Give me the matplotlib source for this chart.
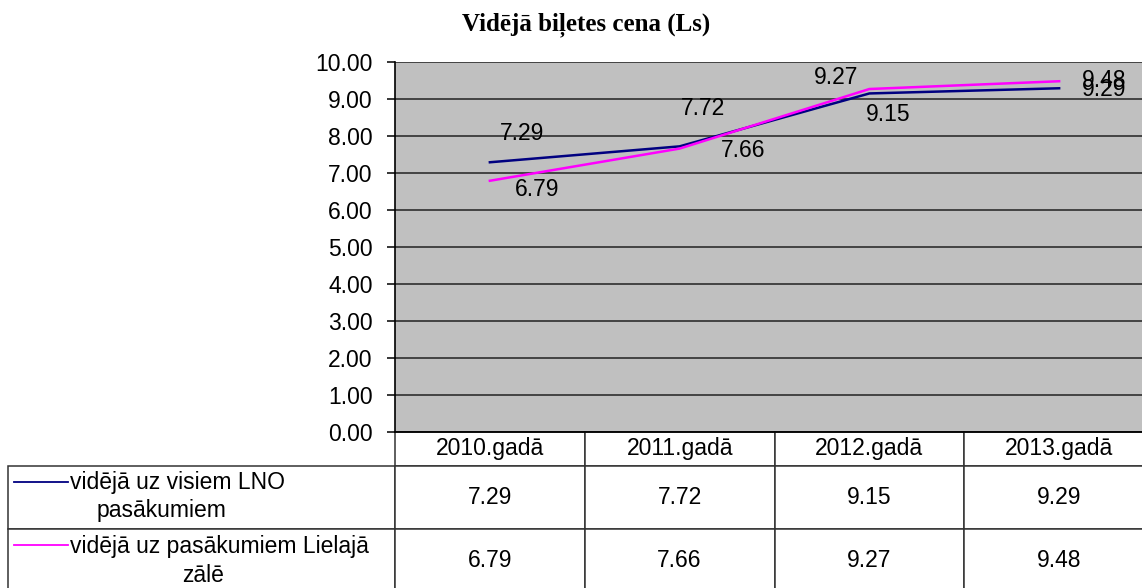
import matplotlib.pyplot as plt
from matplotlib.lines import Line2D
from matplotlib.table import Table
from matplotlib.ticker import FormatStrFormatter

plt.rcParams['font.family'] = ['Liberation Sans', 'DejaVu Sans']

# data
title = "Vidējā biļetes cena (Ls)"
years = ["2010.gadā", "2011.gadā", "2012.gadā", "2013.gadā"]
series_names = ["vidējā uz visiem LNO\npasākumiem", "vidējā uz pasākumiem Lielajā\nzālē"]
avg_all = [7.29, 7.72, 9.15, 9.29]
avg_hall = [6.79, 7.66, 9.27, 9.48]
y_ticks = [0, 1, 2, 3, 4, 5, 6, 7, 8, 9, 10]

# label offsets in pixels (dx, dy, y measured downward)
off_all = [(32, -29), (23, -38), (19, 21), (45, 1)]
off_hall = [(47, 9), (64, 2), (-33, -12), (45, -1)]

colors = ["#000080", "#FF00FF"]
fs = 16.5
W, H = 1142, 588

fig = plt.figure(figsize=(W / 100, H / 100), dpi=100)
ax = fig.add_axes([395 / W, 1 - 432 / H, 759 / W, 370 / H])
ax.set_facecolor("#C0C0C0")

x = list(range(len(years)))
ax.plot(x, avg_all, color=colors[0], lw=1.8, zorder=3)
ax.plot(x, avg_hall, color=colors[1], lw=1.8, zorder=4)

# data labels
for vals, offs in [(avg_all, off_all), (avg_hall, off_hall)]:
    for i, v in enumerate(vals):
        ax.annotate(f"{v:.2f}", (i, v), xytext=(offs[i][0], -offs[i][1]),
                    textcoords="offset pixels", ha="center", va="center",
                    fontsize=fs, color="black", zorder=5)

ax.set_xlim(-0.5, len(years) - 0.5)
ax.set_ylim(0, 10)
ax.set_yticks(y_ticks)
ax.yaxis.set_major_formatter(FormatStrFormatter("%.2f"))
ax.set_xticks([])
ax.yaxis.grid(True, color="#222222", lw=1.1)
ax.set_axisbelow(True)
ax.tick_params(axis="y", length=6, width=1.1, pad=10, labelsize=fs, colors="black")
for s in ["top", "right"]:
    ax.spines[s].set_visible(False)
ax.spines["left"].set_linewidth(1.2)
ax.spines["bottom"].set_linewidth(1.2)

# title
fig.text(586 / W, 1 - 25 / H, title, ha="center", va="center",
         fontsize=18, fontweight="bold", family="Liberation Serif")

# data table
label_w, col_w = 387, 189.75
head_h, row_h = 34, 63
tab = Table(ax, bbox=[(8 - 395) / 759, -160 / 370, (1154 - 8) / 759, 160 / 370])
for j, yr in enumerate(years):
    tab.add_cell(0, j + 1, width=col_w, height=head_h, text=yr, loc="center")
for r, vals in enumerate([avg_all, avg_hall]):
    tab.add_cell(r + 1, 0, width=label_w, height=row_h, text="")
    for j, v in enumerate(vals):
        tab.add_cell(r + 1, j + 1, width=col_w, height=row_h, text=f"{v:.2f}", loc="center")
tab.auto_set_font_size(False)
tab.set_fontsize(fs)
for cell in tab.get_celld().values():
    cell.set_edgecolor("#333333")
    cell.set_linewidth(1.1)
    cell.set_facecolor("white")
ax.add_table(tab)

# legend keys + row labels
key_y = [482, 545]
line2_x = [162, 203]
line2_y = [511, 575]
for k, name in enumerate(series_names):
    first, second = name.split("\n")
    fig.add_artist(Line2D([14 / W, 68 / W], [1 - key_y[k] / H] * 2, color=colors[k], lw=1.3))
    fig.text(70 / W, 1 - (key_y[k] + 1) / H, first, ha="left", va="center", fontsize=fs)
    fig.text(line2_x[k] / W, 1 - line2_y[k] / H, second, ha="center", va="center", fontsize=fs)

plt.savefig("out.png", dpi=100)
